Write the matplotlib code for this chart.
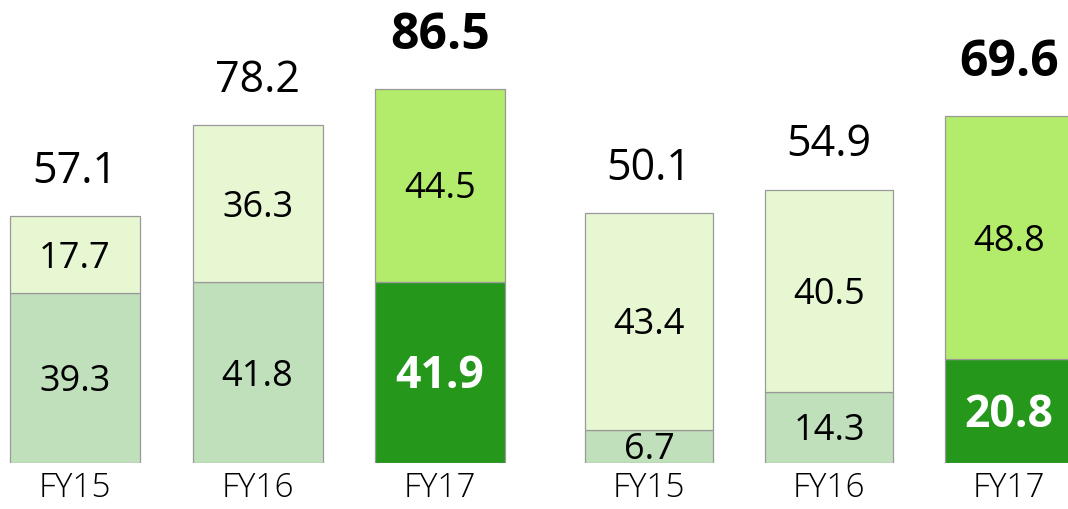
import matplotlib.pyplot as plt

plt.rcParams['font.family'] = ['Open Sans', 'Noto Sans', 'DejaVu Sans']

years = ['FY15', 'FY16', 'FY17']

# left group
left_bottom = [39.3, 41.8, 41.9]
left_top = [17.7, 36.3, 44.5]
left_total = [57.1, 78.2, 86.5]

# right group
right_bottom = [6.7, 14.3, 20.8]
right_top = [43.4, 40.5, 48.8]
right_total = [50.1, 54.9, 69.6]

pale_top = '#e6f7d2'
pale_bottom = '#c0e0bc'
hi_top = '#b3eb6b'
hi_bottom = '#25981c'
edge = '#999999'

W, H = 1068, 509
fig = plt.figure(figsize=(W / 100, H / 100), dpi=100)

bottom_px = 463
ax_bot = (H - bottom_px) / H
ax_h = bottom_px / H


def draw_group(ax, bottoms, tops, totals, ymax, width):
    x = range(len(years))
    bc = [pale_bottom, pale_bottom, hi_bottom]
    tc = [pale_top, pale_top, hi_top]
    ax.bar(x, bottoms, width=width, color=bc, edgecolor=edge, linewidth=0.9)
    ax.bar(x, tops, bottom=bottoms, width=width, color=tc, edgecolor=edge, linewidth=0.9)
    for i in x:
        last = i == len(years) - 1
        ax.annotate(f'{bottoms[i]:.1f}', (i, bottoms[i] / 2), xytext=(0, -3),
                    textcoords='offset points', ha='center', va='center',
                    fontsize=32 if last else 26, color='white' if last else 'black',
                    fontweight='bold' if last else 'normal')
        ax.annotate(f'{tops[i]:.1f}', (i, bottoms[i] + tops[i] / 2), xytext=(0, -3),
                    textcoords='offset points', ha='center', va='center',
                    fontsize=26, color='black')
        ax.annotate(f'{totals[i]:.1f}', (i, bottoms[i] + tops[i]),
                    xytext=(0, 38 if last else 32), textcoords='offset points',
                    ha='center', va='center', fontsize=36 if last else 31,
                    fontweight='bold' if last else 'normal', annotation_clip=False)
    ax.set_ylim(0, ymax)
    ax.set_xticks(list(x))
    ax.set_xticklabels(years, fontsize=24, fontweight='light')
    ax.tick_params(axis='x', length=0, pad=6)
    ax.set_yticks([])
    for s in ax.spines.values():
        s.set_visible(False)
    ax.patch.set_visible(False)


# left axes: bar centres at 75, 257, 440 px
sp = 182.5
ax1 = fig.add_axes([0, ax_bot, 530 / W, ax_h])
draw_group(ax1, left_bottom, left_top, left_total, bottom_px / 4.33, 130 / sp)
ax1.set_xlim(-75 / sp, (530 - 75) / sp)

# right axes: bar centres at 649, 829, 1009 px
sp2 = 180.0
ax2 = fig.add_axes([545 / W, ax_bot, (W - 545) / W, ax_h])
draw_group(ax2, right_bottom, right_top, right_total, bottom_px / 4.99, 128 / sp2)
ax2.set_xlim((545 - 649) / sp2, (W - 649) / sp2)

fig.savefig('out.png', dpi=100)
